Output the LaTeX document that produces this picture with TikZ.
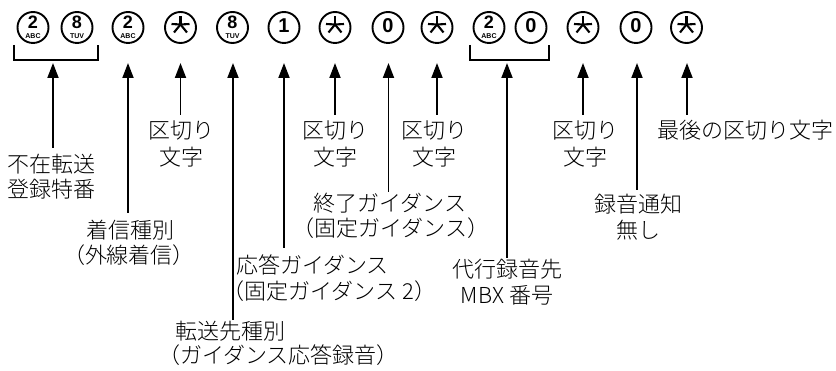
\documentclass[tikz,border=0pt]{standalone}
\usepackage{fontspec}
\usetikzlibrary{arrows.meta}
\newfontfamily\jpfont{Noto Sans CJK JP Light}
\newfontfamily\dgfont{Liberation Sans}
\tikzset{
  keyc/.style={circle,draw,line width=1.9pt,minimum size=31pt,inner sep=0pt},
  dig/.style={font=\dgfont\bfseries\fontsize{20}{20}\selectfont,inner sep=0pt,anchor=base},
  digs/.style={font=\dgfont\bfseries\fontsize{18}{18}\selectfont,inner sep=0pt,anchor=base},
  lett/.style={font=\dgfont\bfseries\fontsize{7}{7}\selectfont,inner sep=0pt,anchor=base},
  starln/.style={line width=2.1pt},
  brk/.style={line width=1.8pt},
  arr/.style={line width=1.8pt,-{Triangle[length=15pt,width=11pt]}},
  lbl/.style={font=\jpfont\fontsize{22}{26}\selectfont,inner sep=0pt,anchor=base}
}
\newcommand\mykeyL[4]{%
  \node[keyc] (#1) at (#2,27.5) {};
  \node[digs] (#1d) at (#2,29) {#3};
  \node[lett] (#1l) at (#2,38.2) {#4};}
\newcommand\mykeyD[3]{%
  \node[keyc] (#1) at (#2,27.5) {};
  \node[dig] (#1d) at (#2,32.5) {#3};}
\newcommand\mykeyS[2]{%
  \node[keyc] (#1) at (#2,27.5) {};
  \coordinate (#1s) at (#2,24.5);
  \draw[starln] (#1s) -- ++(0,-8.5);
  \draw[starln] (#1s) -- ++(-9,-0.5);
  \draw[starln] (#1s) -- ++(9,-0.5);
  \draw[starln] (#1s) -- ++(-6.5,8);
  \draw[starln] (#1s) -- ++(6.5,8);}
\begin{document}
\begin{tikzpicture}[x=1pt,y=-1pt]
\useasboundingbox (0,0) rectangle (836,371);
% keys
\mykeyL{c1}{33}{2}{ABC}
\mykeyL{c2}{77}{8}{TUV}
\mykeyL{c3}{128}{2}{ABC}
\mykeyS{c4}{180.5}
\mykeyL{c5}{232.5}{8}{TUV}
\mykeyD{c6}{284}{1}
\mykeyS{c7}{335}
\mykeyD{c8}{388}{0}
\mykeyS{c9}{437}
\mykeyL{c10}{489}{2}{ABC}
\mykeyD{c11}{531}{0}
\mykeyS{c12}{583}
\mykeyD{c13}{636}{0}
\mykeyS{c14}{686.5}
% brackets
\draw[brk] (14,45) -- (14,60) -- (98,60) -- (98,45);
\draw[brk] (470,45) -- (470,60) -- (549,60) -- (549,45);
\coordinate (tip) at (0,63);
% lower ends
\coordinate (e1) at (53,148);
\coordinate (e2) at (128,213);
\coordinate (e3) at (180.5,115);
\coordinate (e4) at (233,320);
\coordinate (e5) at (284,248);
\coordinate (e6) at (335,115);
\coordinate (e7) at (388.5,192);
\coordinate (e8) at (437,115);
\coordinate (e9) at (507,258);
\coordinate (e10) at (583,115);
\coordinate (e11) at (637,190);
\coordinate (e12) at (687,115);
\foreach \i in {1,...,12}{\draw[arr] (e\i) -- (e\i |- tip);}
% labels
\node[lbl] (l1a) at (52,173) {不在転送};
\node[lbl] (l1b) at (52,198) {登録特番};
\node[lbl] (l2a) at (130,239) {着信種別};
\node[lbl] (l2b) at (129,264) {（外線着信）};
\node[lbl] (l3a) at (181,139) {区切り};
\node[lbl] (l3b) at (181,166) {文字};
\node[lbl] (l4a) at (230,340) {転送先種別};
\node[lbl] (l4b) at (278.5,364) {（ガイダンス応答録音）};
\node[lbl] (l5a) at (312.5,274) {応答ガイダンス};
\node[lbl] (l5b) at (329.5,300) {（固定ガイダンス 2）};
\node[lbl] (l6a) at (335,139) {区切り};
\node[lbl] (l6b) at (335,166) {文字};
\node[lbl] (l7a) at (390,212) {終了ガイダンス};
\node[lbl] (l7b) at (391,237) {（固定ガイダンス）};
\node[lbl] (l8a) at (434,139) {区切り};
\node[lbl] (l8b) at (434,166) {文字};
\node[lbl] (l9a) at (507,278) {代行録音先};
\node[lbl] (l9b) at (507,304) {MBX 番号};
\node[lbl] (l10a) at (585,139) {区切り};
\node[lbl] (l10b) at (585,166) {文字};
\node[lbl] (l11a) at (638,213) {録音通知};
\node[lbl] (l11b) at (638,239) {無し};
\node[lbl] (l12) at (745,139) {最後の区切り文字};
\end{tikzpicture}
\end{document}
